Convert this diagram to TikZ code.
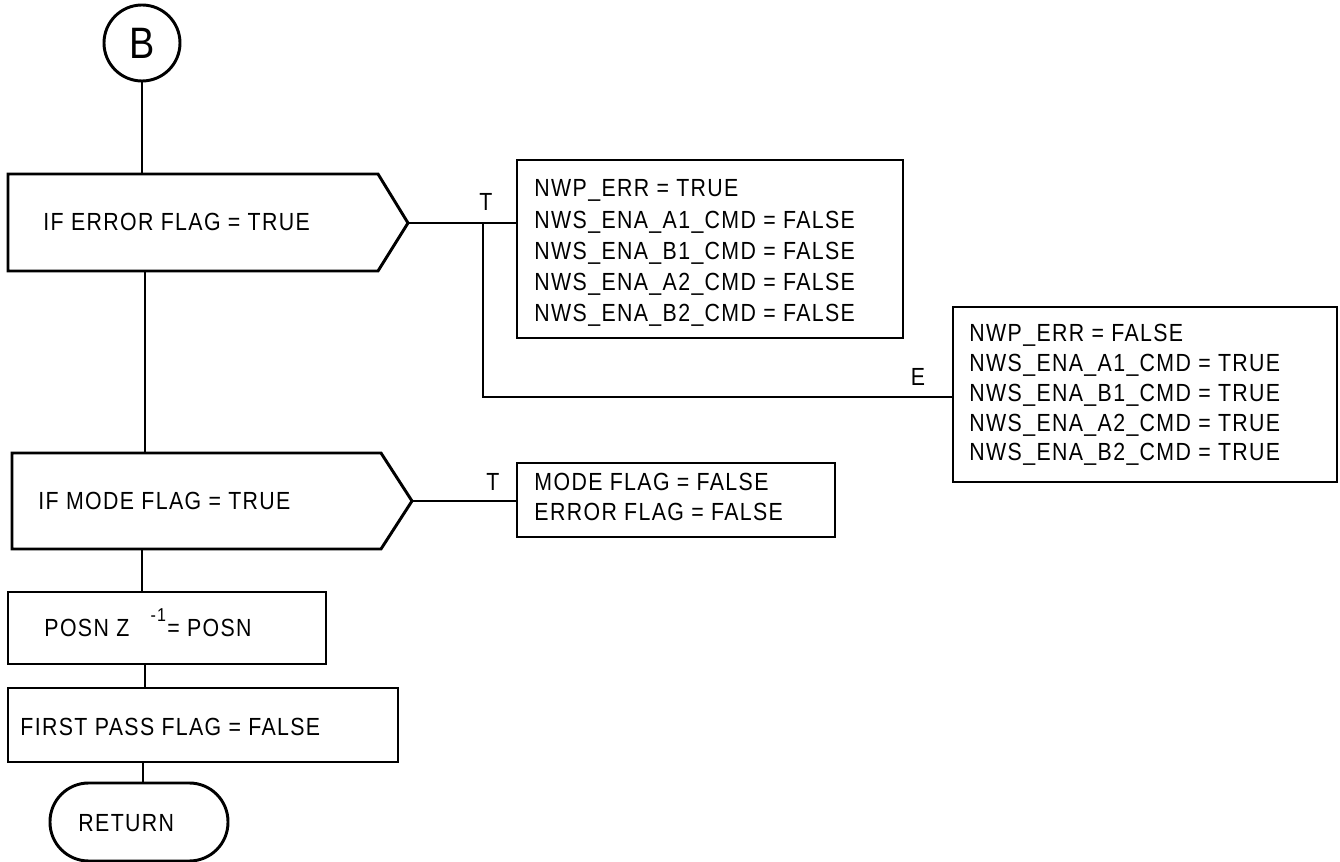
\documentclass[tikz,border=0pt]{standalone}
\usepackage{fontspec}
\setmainfont{Liberation Sans}[FakeStretch=0.86,LetterSpace=5.5]
\usetikzlibrary{fit}
\begin{document}
\begin{tikzpicture}[x=0.75pt,y=-0.75pt,line width=2.2pt,
  txt/.style={anchor=base west,inner sep=0pt,font=\fontsize{18.6}{20}\selectfont},
  lbl/.style={anchor=base,inner sep=0pt,font=\fontsize{18.6}{20}\selectfont},
  conn/.style={draw,line width=2.2pt}]
\useasboundingbox (0,0) rectangle (1340,862);
% connector B
\node[circle,draw,minimum size=57pt,inner sep=0pt,font=\fontsize{33}{33}\selectfont] (B) at (142,43) {B};
% decision 1
\draw (8,174) -- (378,174) -- (408,223) -- (378,271) -- (8,271) -- cycle;
\coordinate (d1top) at (142,174);
\coordinate (d1tip) at (408,223);
\coordinate (d1bot) at (145,271);
\node[txt] (t1) at (42,231) {IF ERROR FLAG = TRUE};
% decision 2
\draw (12,453) -- (381,453) -- (412,501) -- (381,549) -- (12,549) -- cycle;
\coordinate (d2top) at (145,453);
\coordinate (d2tip) at (412,501);
\coordinate (d2bot) at (142,549);
\node[txt] (t2) at (37,509.5) {IF MODE FLAG = TRUE};
% box 1
\node[draw,inner sep=0pt,fit={(517,160)(903,338)}] (b1) {};
\node[txt] (b1l1) at (533,197) {NWP\_ERR = TRUE};
\node[txt] (b1l2) at (533,228.1) {NWS\_ENA\_A1\_CMD = FALSE};
\node[txt] (b1l3) at (533,259.2) {NWS\_ENA\_B1\_CMD = FALSE};
\node[txt] (b1l4) at (533,290.3) {NWS\_ENA\_A2\_CMD = FALSE};
\node[txt] (b1l5) at (533,321.5) {NWS\_ENA\_B2\_CMD = FALSE};
% box 2
\node[draw,inner sep=0pt,fit={(953,307)(1337,482)}] (b2) {};
\node[txt] (b2l1) at (968,342) {NWP\_ERR = FALSE};
\node[txt] (b2l2) at (968,371.7) {NWS\_ENA\_A1\_CMD = TRUE};
\node[txt] (b2l3) at (968,401.5) {NWS\_ENA\_B1\_CMD = TRUE};
\node[txt] (b2l4) at (968,431.2) {NWS\_ENA\_A2\_CMD = TRUE};
\node[txt] (b2l5) at (968,461) {NWS\_ENA\_B2\_CMD = TRUE};
% box 3
\node[draw,inner sep=0pt,fit={(517,463)(835,537)}] (b3) {};
\node[txt] (b3l1) at (533,491) {MODE FLAG = FALSE};
\node[txt] (b3l2) at (533,521) {ERROR FLAG = FALSE};
% posn box
\node[draw,inner sep=0pt,fit={(8,592)(326,664)}] (posn) {};
\node[txt] (posnt) at (43,637) {POSN Z\hspace{16pt}\raisebox{11.25pt}{\fontsize{14}{14}\selectfont -1}\hspace{1pt}= POSN};
% first pass box
\node[draw,inner sep=0pt,fit={(8,688)(398,762)}] (fp) {};
\node[txt] (fpt) at (19,736) {FIRST PASS FLAG = FALSE};
% return
\node[draw,inner sep=0pt,rounded corners=29pt,fit={(50,783)(228,861)}] (ret) {};
\node[txt] (rett) at (77,831) {RETURN};
% labels
\node[lbl] (lT1) at (486,210.5) {T};
\node[lbl] (lE) at (918,385.5) {E};
\node[lbl] (lT2) at (493,490.5) {T};
% connectors
\coordinate (jT) at (483,223);
\coordinate (jE) at (483,397);
\draw[conn] (B.south) -- (d1top);
\draw[conn] (d1tip) -- (d1tip -| b1.west);
\draw[conn] (jT) -- (jE) -- (jE -| b2.west);
\draw[conn] (d1bot) -- (d2top);
\draw[conn] (d2tip) -- (d2tip -| b3.west);
\draw[conn] (d2bot) -- (d2bot |- posn.north);
\draw[conn] (posn.south -| 145,0) -- (fp.north -| 145,0);
\draw[conn] (fp.south -| 143,0) -- (ret.north -| 143,0);
\end{tikzpicture}
\end{document}
